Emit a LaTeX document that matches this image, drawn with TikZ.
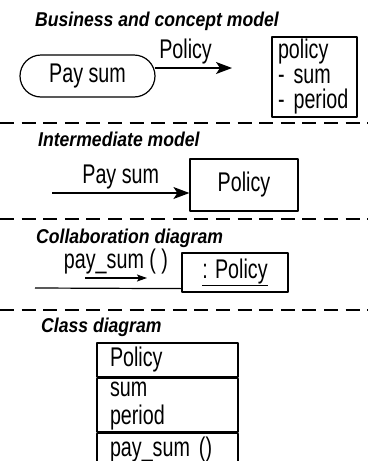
\documentclass[tikz,border=0pt]{standalone}
\usepackage{fontspec}
\setmainfont[FakeStretch=0.73]{Liberation Sans}
\newfontfamily\headfont[FakeStretch=0.88]{Liberation Sans}
\usetikzlibrary{arrows.meta,positioning}
\hyphenpenalty=10000
\tikzset{
	heading/.style={anchor=base west, inner sep=0pt, font=\headfont\fontsize{20}{22}\selectfont\bfseries\itshape},
	box/.style={draw, line width=1.2pt, inner sep=3pt},
	classrow/.style={box, align=left, text width=115pt, inner xsep=13pt, inner ysep=0pt},
	flow/.style={line width=1.2pt, -{Stealth[length=16pt, width=12pt, inset=4pt]}},
	msg/.style={line width=1.1pt, -{Stealth[length=10pt, width=7pt, inset=2pt]}},
	link/.style={line width=1.2pt},
	sep/.style={line width=1.6pt, dash pattern=on 14pt off 7.6pt},
}
\begin{document}
\begin{tikzpicture}[x=1pt, y=-1pt, font=\fontsize{27}{28}\selectfont, line join=round]
	\useasboundingbox (0,0) rectangle (368,461);
	% business and concept model
	\node[heading] (bcm) at (35,26) {Business and concept model};
	\node[box, rounded corners=21pt, minimum width=135pt, minimum height=42pt] (paysum) at (87.5,76) {Pay sum};
	\coordinate (poltip) at (232,68);
	\draw[flow] ([yshift=8pt, xshift=-1pt]paysum.east) -- (poltip) node[pos=0.4, above, inner sep=3pt] (pollab) {Policy};
	\node[box, align=left, text width=73pt, inner xsep=6pt, inner ysep=2pt, minimum height=80pt, font=\fontsize{27}{25}\selectfont] (polattr) at (314.5,77) {policy\\- sum\\- period};
	% separators
	\foreach \yy in {123,219,310} \draw[sep] (0,\yy) -- (368,\yy);
	% intermediate model
	\node[heading] (imm) at (38,146) {Intermediate model};
	\node[box, minimum width=108pt, minimum height=52pt] (policy2) at (244,185) {Policy};
	\coordinate (in2) at (52,193);
	\draw[flow] (in2) -- ([yshift=-8pt]policy2.west) node[midway, above, inner sep=3pt] (paylab) {Pay sum};
	% collaboration diagram
	\node[heading] (cod) at (36,243) {Collaboration diagram};
	\node[box, minimum width=106pt, minimum height=39pt, inner ysep=1pt] (policy3) at (235,272.5) {\underline{: Policy}};
	\coordinate (in3) at (35,288);
	\draw[link] (in3) -- ([yshift=4pt]policy3.south west);
	\coordinate (msgA) at (85,278);
	\coordinate (msgB) at (147,278);
	\draw[msg] (msgA) -- (msgB) node[midway, above, inner sep=3pt] (msglab) {pay\_sum ( )};
	% class diagram
	\node[heading] (cld) at (41,332) {Class diagram};
	\node[classrow, minimum height=34pt] (cname) at (167.5,360) {Policy};
	\node[classrow, minimum height=50pt, below=0pt of cname, font=\fontsize{27}{25.5}\selectfont] (cattr) {\strut sum\\period\strut};
	\node[classrow, minimum height=33pt, below=0pt of cattr] (cops) {pay\_sum ()};
\end{tikzpicture}
\end{document}
